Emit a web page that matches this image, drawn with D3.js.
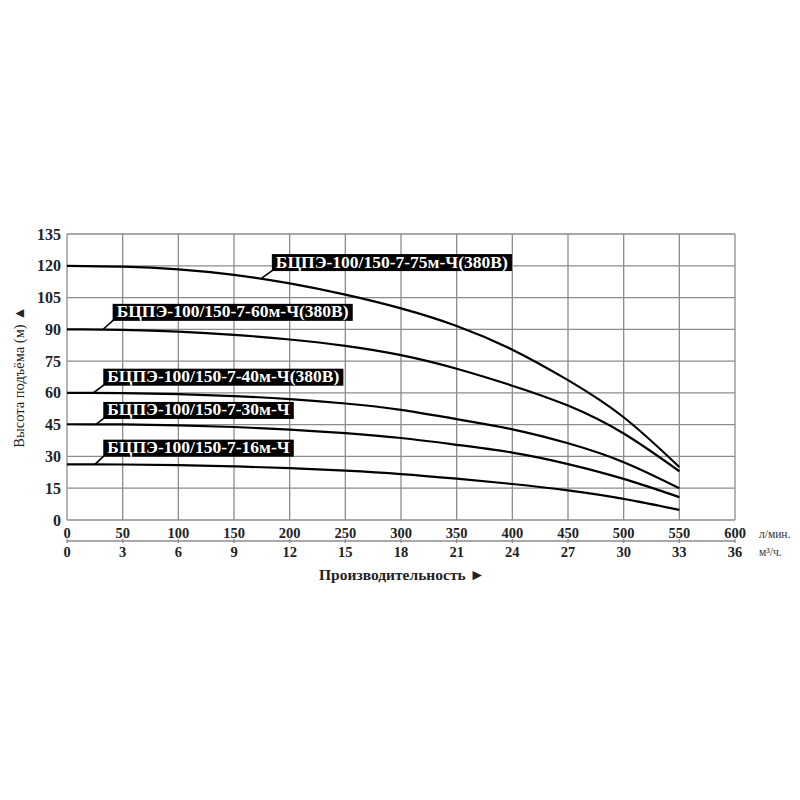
<!DOCTYPE html>
<html>
<head>
<meta charset="utf-8">
<script src="https://cdn.jsdelivr.net/npm/d3@7"></script>
<style>
  html, body { margin: 0; padding: 0; background: #fff; }
  svg { display: block; }
</style>
</head>
<body>
<svg id="chart" width="800" height="800"></svg>
<script>
// ---- data ----
const flowTicks = [0, 50, 100, 150, 200, 250, 300, 350, 400, 450, 500, 550, 600]; // л/мин.
const m3hTicks = [0, 3, 6, 9, 12, 15, 18, 21, 24, 27, 30, 33, 36];               // м³/ч.
const headTicks = [0, 15, 30, 45, 60, 75, 90, 105, 120, 135];                    // м
const flowPoints = [0, 50, 100, 150, 200, 250, 300, 350, 400, 450, 500, 550];

const seriesNames = [
  "БЦПЭ-100/150-7-75м-Ч(380В)",
  "БЦПЭ-100/150-7-60м-Ч(380В)",
  "БЦПЭ-100/150-7-40м-Ч(380В)",
  "БЦПЭ-100/150-7-30м-Ч",
  "БЦПЭ-100/150-7-16м-Ч"
];
const head75 = [120, 119.6, 118.3, 115.7, 111.7, 106.4, 99.9, 91.6, 80.4, 66, 48.5, 25];
const head60 = [90, 89.7, 88.9, 87.4, 85.2, 82.2, 77.8, 71.4, 63.4, 54, 40.8, 23];
const head40 = [60, 59.9, 59.4, 58.5, 57.1, 55, 52, 47.6, 42.8, 36.2, 27.3, 15];
const head30 = [45.2, 45.1, 44.7, 43.9, 42.7, 41, 38.7, 35.5, 31.8, 26.4, 19.4, 10.8];
const head16 = [26.3, 26.2, 25.9, 25.3, 24.5, 23.3, 21.7, 19.5, 17, 14, 10, 4.8];
const seriesHeads = [head75, head60, head40, head30, head16];

// label annotation anchors (data units): leader start on curve, box bottom-left
const labelLeaderFlow = [174, 32, 23.5, 26, 25];
const labelBoxFlow = [184, 41, 32.6, 32.6, 32.6];
const labelBoxHead = [117.5, 94, 63.4, 47.7, 29.9];

// ---- layout ----
(function () {
const svg = d3.select("#chart");
const mLeft = 67, mRight = 735, mTop = 234, mBottom = 520;
const x = d3.scaleLinear().domain([0, 600]).range([mLeft, mRight]);
const x2 = d3.scaleLinear().domain([0, 36]).range([mLeft, mRight]);
const y = d3.scaleLinear().domain([0, 135]).range([mBottom, mTop]);
const serif = "'Liberation Serif', 'Times New Roman', serif";
const gridColor = "#8c8c8c";

// grid
svg.append("g").selectAll("line").data(flowTicks).join("line")
  .attr("x1", d => x(d)).attr("x2", d => x(d))
  .attr("y1", y(0)).attr("y2", y(135))
  .attr("stroke", gridColor).attr("stroke-width", 1.3);
svg.append("g").selectAll("line").data(headTicks).join("line")
  .attr("x1", x(0)).attr("x2", x(600))
  .attr("y1", d => y(d)).attr("y2", d => y(d))
  .attr("stroke", gridColor).attr("stroke-width", 1.3);

// y tick labels
svg.append("g").selectAll("text").data(headTicks).join("text")
  .attr("x", mLeft - 6).attr("y", d => y(d))
  .attr("dy", "0.35em")
  .attr("text-anchor", "end")
  .attr("font-family", serif).attr("font-weight", "bold").attr("font-size", 16)
  .attr("fill", "#222")
  .text(d => d);

// x tick labels row 1 (л/мин.)
svg.append("g").selectAll("text").data(flowTicks).join("text")
  .attr("x", d => x(d)).attr("y", 538)
  .attr("text-anchor", "middle")
  .attr("font-family", serif).attr("font-weight", "bold").attr("font-size", 14.5)
  .attr("fill", "#222")
  .text(d => d);

// secondary axis line with ticks
const axisY = 541;
svg.append("line").attr("x1", x(0)).attr("x2", x(600)).attr("y1", axisY).attr("y2", axisY)
  .attr("stroke", gridColor).attr("stroke-width", 1.3);
svg.append("g").selectAll("line").data(m3hTicks).join("line")
  .attr("x1", d => x2(d)).attr("x2", d => x2(d))
  .attr("y1", axisY - 2).attr("y2", axisY + 2)
  .attr("stroke", gridColor).attr("stroke-width", 1.3);

// x tick labels row 2 (м³/ч.)
svg.append("g").selectAll("text").data(m3hTicks).join("text")
  .attr("x", d => x2(d)).attr("y", 557)
  .attr("text-anchor", "middle")
  .attr("font-family", serif).attr("font-weight", "bold").attr("font-size", 14.5)
  .attr("fill", "#222")
  .text(d => d);

// unit labels
svg.append("text").attr("x", 759).attr("y", 538)
  .attr("font-family", serif).attr("font-size", 11.5).attr("fill", "#333")
  .text("л/мин.");
svg.append("text").attr("x", 759).attr("y", 556)
  .attr("font-family", serif).attr("font-size", 11.5).attr("fill", "#333")
  .text("м³/ч.");

// axis titles
svg.append("text")
  .attr("transform", "translate(24,377) rotate(-90)")
  .attr("text-anchor", "middle")
  .attr("font-family", serif).attr("font-size", 14.5).attr("fill", "#222")
  .text("Высота подъёма (м) ▲");
svg.append("text")
  .attr("x", 402).attr("y", 580)
  .attr("text-anchor", "middle")
  .attr("font-family", serif).attr("font-weight", "bold").attr("font-size", 15.5).attr("fill", "#222")
  .text("Производительность ►");

// curves
const line = d3.line()
  .x((d, i) => x(flowPoints[i]))
  .y(d => y(d))
  .curve(d3.curveNatural);
svg.append("g").selectAll("path").data(seriesHeads).join("path")
  .attr("d", d => line(d))
  .attr("fill", "none").attr("stroke", "#000").attr("stroke-width", 2.2);

// labels
const interp = (arr, f) => {
  const i = Math.min(Math.floor(f / 50), arr.length - 2);
  const t = (f - flowPoints[i]) / 50;
  return arr[i] + (arr[i + 1] - arr[i]) * t;
};
seriesNames.forEach((name, k) => {
  const g = svg.append("g");
  const bx = x(labelBoxFlow[k]);
  const by = y(labelBoxHead[k]);
  const lx = x(labelLeaderFlow[k]);
  const ly = y(interp(seriesHeads[k], labelLeaderFlow[k]));
  g.append("line").attr("x1", lx).attr("y1", ly).attr("x2", bx + 1).attr("y2", by - 1)
    .attr("stroke", "#000").attr("stroke-width", 1.6);
  const rect = g.append("rect").attr("fill", "#000");
  const t = g.append("text")
    .attr("x", bx + 4).attr("y", by - 3.5)
    .attr("font-family", serif).attr("font-weight", "bold").attr("font-size", 17.5)
    .attr("fill", "#fff")
    .text(name);
  const bb = t.node().getBBox();
  rect.attr("x", bx).attr("y", by - 17).attr("width", bb.width + 8).attr("height", 17);
});
})();
</script>
</body>
</html>
